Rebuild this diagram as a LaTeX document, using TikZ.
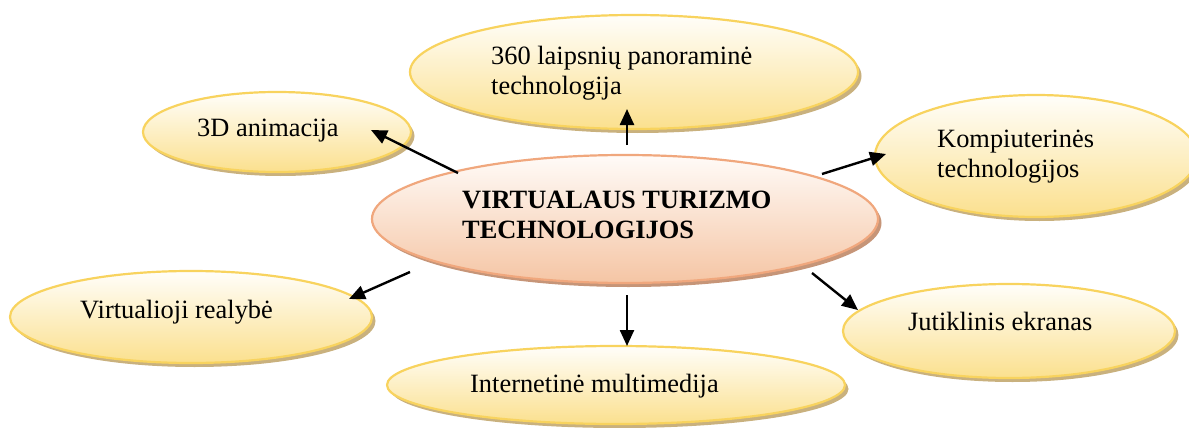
\documentclass[tikz,border=0pt]{standalone}
\usepackage{fontspec}
\setmainfont{Liberation Serif}
\usetikzlibrary{shapes.geometric,shadows,arrows.meta}

\definecolor{bubbleedge}{HTML}{F8D35E}
\definecolor{bubblelow}{HTML}{FBE08E}
\definecolor{bubbletop}{HTML}{FFFEFA}
\definecolor{bubbleshade}{HTML}{C9B17E}
\definecolor{coreedge}{HTML}{F0A77D}
\definecolor{corelow}{HTML}{F5C5A4}
\definecolor{coretop}{HTML}{FFFBF8}
\definecolor{coreshade}{HTML}{C69578}

\tikzset{
  bubble/.style={ellipse, draw=bubbleedge, line width=2.2pt, inner sep=0pt,
    top color=bubbletop, bottom color=bubblelow,
    drop shadow={shadow xshift=3.5pt, shadow yshift=-4pt, fill=bubbleshade, opacity=1}},
  core/.style={ellipse, draw=coreedge, line width=2.2pt, inner sep=0pt,
    top color=coretop, bottom color=corelow,
    drop shadow={shadow xshift=3.5pt, shadow yshift=-4pt, fill=coreshade, opacity=1}},
  caption/.style={anchor=base west, inner sep=0pt, align=left,
    font=\fontsize{26.4}{30}\selectfont},
  link/.style={line width=2.4pt, -{Triangle[length=16pt,width=14pt]}}
}

\begin{document}
\begin{tikzpicture}[x=1pt,y=-1pt]
\useasboundingbox (0,0) rectangle (1189,428);
\clip (0,0) rectangle (1189,428);

% outer bubbles
\node[bubble, minimum width=448pt, minimum height=114pt] (pano) at (634,72) {};
\node[bubble, minimum width=268pt, minimum height=80pt] (anim) at (277,132) {};
\node[bubble, minimum width=322pt, minimum height=122pt] (komp) at (1036,156) {};
\node[bubble, minimum width=362pt, minimum height=92pt] (vr) at (191,317) {};
\node[bubble, minimum width=458pt, minimum height=78pt] (inet) at (616,385) {};
\node[bubble, minimum width=332pt, minimum height=94pt] (jut) at (1009,331) {};

% central bubble
\node[core, minimum width=506pt, minimum height=128pt] (vtt) at (625,219) {};

% captions (two-line ones are placed by the baseline of their last line)
\node[caption] (tpano) at (491,95) {360 laipsnių panoraminė\\technologija};
\node[caption] (tanim) at (197,136) {3D animacija};
\node[caption] (tkomp) at (937,177) {Kompiuterinės\\technologijos};
\node[caption] (tvr) at (80,318) {Virtualioji realybė};
\node[caption] (tinet) at (470,392) {Internetinė multimedija};
\node[caption] (tjut) at (908,330) {Jutiklinis ekranas};
\node[caption, font=\fontsize{26.4}{30}\selectfont\bfseries] (tvtt) at (462,238)
  {VIRTUALAUS TURIZMO\\TECHNOLOGIJOS};

% connector ends
\coordinate (sPano) at (627,145);
\coordinate (ePano) at (627,109);
\coordinate (sAnim) at (458,173);
\coordinate (eAnim) at (371,130);
\coordinate (sKomp) at (822,174);
\coordinate (eKomp) at (886,154);
\coordinate (sVr) at (410,272);
\coordinate (eVr) at (349,299);
\coordinate (sInet) at (627,295);
\coordinate (eInet) at (627,346);
\coordinate (sJut) at (812,273);
\coordinate (eJut) at (858,310);

\draw[link] (sPano) -- (ePano);
\draw[link] (sAnim) -- (eAnim);
\draw[link] (sKomp) -- (eKomp);
\draw[link] (sVr) -- (eVr);
\draw[link] (sInet) -- (eInet);
\draw[link] (sJut) -- (eJut);
\end{tikzpicture}
\end{document}
